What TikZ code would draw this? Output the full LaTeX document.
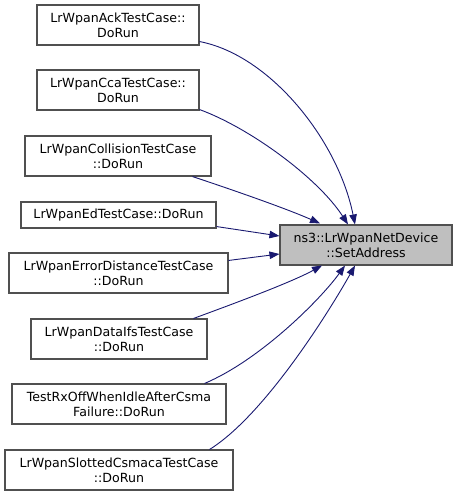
\documentclass[tikz,border=0pt]{standalone}
\usepackage{fontspec}
\setmainfont{DejaVu Sans}
\usetikzlibrary{arrows.meta}
\definecolor{edgeblue}{HTML}{191970}
\definecolor{boxborder}{HTML}{505050}
\definecolor{targetfill}{HTML}{BFBFBF}
\begin{document}
\begin{tikzpicture}[x=1pt,y=-1pt,
  fn/.style={draw=boxborder,line width=1.1pt,fill=white,inner sep=0pt,align=center,
    font=\fontsize{12.6}{15}\selectfont,minimum height=40pt},
  tgt/.style={fn,fill=targetfill},
  edge/.style={draw=edgeblue,line width=0.9pt,-{Triangle[length=10pt,width=7.5pt]}}]
\useasboundingbox (0,0) rectangle (456,496);
\node[fn,minimum width=162pt] (a1) at (118,25) {LrWpanAckTestCase::\\DoRun};
\node[fn,minimum width=162pt] (a2) at (118,90) {LrWpanCcaTestCase::\\DoRun};
\node[fn,minimum width=186pt] (a3) at (118,156) {LrWpanCollisionTestCase\\::DoRun};
\node[fn,minimum width=195pt,minimum height=26pt] (a4) at (118.5,215) {LrWpanEdTestCase::DoRun};
\node[fn,minimum width=219pt] (a5) at (118.5,273) {LrWpanErrorDistanceTestCase\\::DoRun};
\node[fn,minimum width=176pt] (a6) at (119,339) {LrWpanDataIfsTestCase\\::DoRun};
\node[fn,minimum width=214pt] (a7) at (119,404) {TestRxOffWhenIdleAfterCsma\\Failure::DoRun};
\node[fn,minimum width=228pt] (a8) at (119,470) {LrWpanSlottedCsmacaTestCase\\::DoRun};
\node[tgt,minimum width=172pt] (t) at (366,245) {ns3::LrWpanNetDevice\\::SetAddress};
\draw[edge] ([yshift=4pt]a1.south east) .. controls (270,55) and (338,140) .. ([xshift=-11pt]t.north);
\draw[edge] ([yshift=1pt]a2.south east) .. controls (250,128) and (318,178) .. ([xshift=-18pt]t.north);
\draw[edge] ([xshift=-19pt]a3.south east) .. controls (230,189) and (285,208) .. ([xshift=-46pt,yshift=1pt]t.north);
\draw[edge] ([yshift=2pt]a4.south east) -- ([yshift=9pt]t.west);
\draw[edge] ([yshift=-8pt]a5.north east) -- ([yshift=-9pt]t.west);
\draw[edge] ([xshift=-14pt]a6.north east) .. controls (230,305) and (290,283) .. ([xshift=-44pt]t.south);
\draw[edge] ([xshift=-22pt]a7.north east) .. controls (260,360) and (320,300) .. ([xshift=-21pt]t.south);
\draw[edge] ([xshift=-24pt]a8.north east) .. controls (265,415) and (330,310) .. ([xshift=-11pt]t.south);
\end{tikzpicture}
\end{document}
